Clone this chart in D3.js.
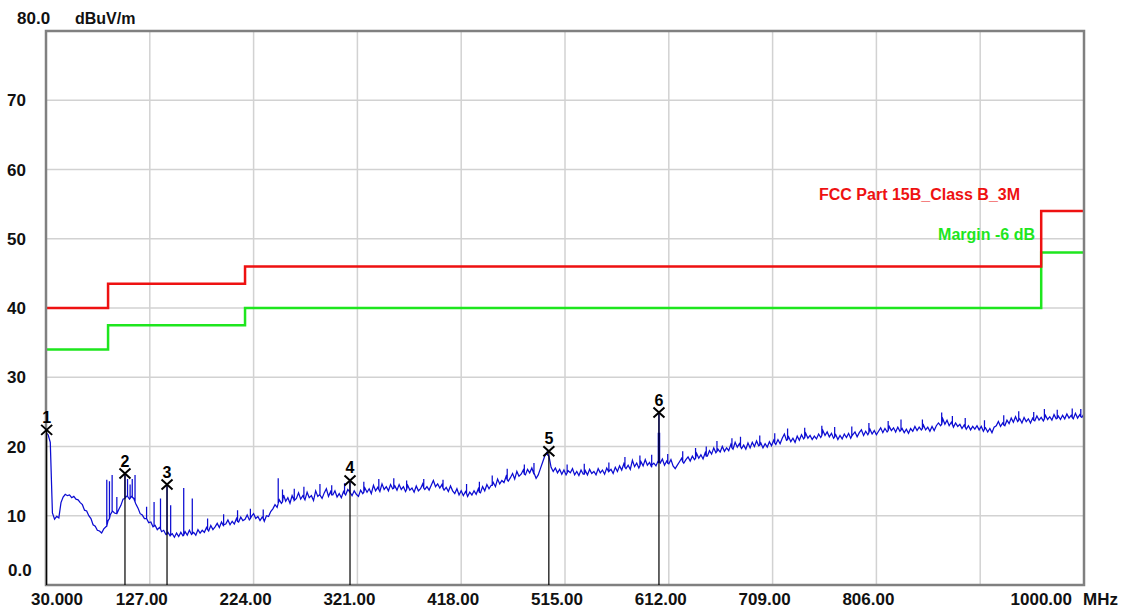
<!DOCTYPE html>
<html><head><meta charset="utf-8">
<script src="https://cdn.jsdelivr.net/npm/d3@7"></script>
<style>
html,body{margin:0;padding:0;background:#fff;}
svg{display:block;}
text{font-family:"Liberation Sans",Arial,sans-serif;font-weight:bold;}
</style></head>
<body>
<svg id="chart" width="1124" height="608"></svg>
<script>
// ---- data ----
const freqStart = 30;     // MHz, first trace sample
const freqStep = 2;       // MHz between trace samples
const traceLevels = [
 22.0,21.7,20.6,10.4, 9.5, 9.9, 9.7,11.9,12.7,13.1,12.9,13.0,12.6,12.8,12.4,
 12.3,11.9,11.6,10.8,10.7,10.0, 9.6, 8.7, 8.5, 7.9, 7.8, 7.5, 8.1, 8.4, 9.3,
 10.1,10.7,10.4,10.3,10.9,11.5,12.4,12.6,12.9,12.4,12.8,12.5,11.7,11.1,10.3,
 10.1, 9.6, 9.6, 9.0, 9.1, 8.4, 8.6, 8.0, 8.3, 7.7, 7.9, 7.3, 7.6, 7.1, 7.4,
  6.9, 7.5, 7.0, 7.6, 7.1, 7.7, 7.2, 7.9, 7.3, 7.6, 7.2, 8.0, 7.5, 7.9, 7.6,
  8.3, 7.8, 8.6, 8.0, 8.4, 8.9, 8.3, 9.1, 8.5, 8.8, 9.4, 8.7, 9.2, 8.8, 9.6,
  9.1, 9.8, 9.3, 9.5,10.1, 9.4, 9.9,10.3, 9.6, 9.9, 9.3, 9.8, 9.2,10.0, 9.9,
 10.6,11.0,11.6,11.2,12.3,11.8,13.0,12.1,12.6,11.8,12.9,12.2,12.5,13.3,12.4,
 12.9,12.3,13.4,12.6,12.9,12.2,13.6,12.8,13.1,12.5,13.3,13.9,12.8,13.5,13.0,
 13.6,12.7,13.2,12.6,13.5,13.0,13.8,13.4,12.9,13.6,13.1,12.8,13.7,13.2,14.0,
 13.4,13.9,13.2,14.4,13.6,14.1,13.5,14.6,13.8,14.2,13.6,14.5,13.9,14.3,13.7,
 14.5,13.8,14.2,13.5,14.4,13.7,14.0,13.4,14.3,13.6,13.9,14.6,13.8,14.2,13.7,
 14.4,15.1,14.2,14.6,14.0,14.5,13.7,14.1,13.5,14.3,13.6,13.2,13.9,13.0,13.6,
 12.9,13.5,12.8,13.4,13.0,13.6,13.1,13.9,13.3,14.2,13.6,14.5,13.9,14.4,14.8,
 14.2,15.3,14.6,15.1,14.8,15.7,15.0,15.5,16.1,15.3,16.4,15.7,16.0,16.6,15.9,
 16.7,16.2,16.9,16.0,15.4,15.9,16.8,17.7,18.6,19.1,18.6,17.0,16.4,16.9,16.2,
 16.7,16.0,16.6,15.9,16.5,16.2,16.8,15.9,16.4,15.8,16.6,16.0,16.5,15.9,16.7,
 16.1,16.4,15.9,16.8,16.2,16.6,16.0,16.9,16.3,16.7,16.1,17.0,16.4,17.2,16.6,
 17.5,16.8,17.3,16.7,18.0,17.1,17.6,16.9,17.8,17.2,18.1,17.3,17.7,17.0,17.6,
 17.2,17.9,17.6,18.2,17.3,17.9,17.5,18.1,17.2,16.8,17.3,17.8,18.3,17.6,18.1,
 18.5,17.9,18.6,18.1,19.0,18.3,18.8,18.2,19.1,18.6,19.4,18.9,19.8,19.1,19.6,
 19.2,20.0,19.3,19.8,19.4,20.3,19.6,20.6,19.9,20.4,19.7,20.2,19.6,20.5,19.8,
 20.6,20.0,20.8,20.1,20.5,19.8,20.4,19.9,20.7,20.1,20.9,20.3,21.0,20.4,21.2,
 21.8,20.9,21.4,20.7,21.2,20.6,21.5,20.9,21.7,21.1,21.9,21.2,21.6,21.0,21.5,
 21.1,21.8,21.3,22.3,21.6,22.1,21.4,21.9,21.2,21.7,21.0,21.6,21.1,21.8,21.3,
 21.9,21.2,21.7,22.1,21.4,22.0,22.4,21.6,22.2,21.7,22.5,21.8,22.3,21.7,22.2,
 22.7,22.0,22.6,22.1,22.9,22.3,22.7,22.1,22.8,22.2,22.6,22.0,22.5,21.9,22.6,
 22.2,22.9,22.3,22.8,22.4,23.1,22.4,22.8,22.2,22.9,22.3,23.0,23.4,23.0,24.0,
 23.2,23.8,23.0,23.5,22.8,23.4,22.9,23.2,22.6,23.1,22.5,23.0,22.4,22.9,22.5,
 23.0,22.4,22.9,22.2,22.7,22.1,22.6,22.0,22.8,23.0,23.6,22.9,23.4,23.0,23.8,
 23.3,24.1,23.5,24.3,23.6,24.0,23.4,24.2,23.6,24.0,23.4,24.1,23.7,24.4,23.8,
 24.2,23.7,24.5,23.9,24.3,23.8,24.6,24.0,24.4,23.9,24.5,24.0,24.7,24.1,24.5,
 24.0,24.8,24.1,24.6,24.2,24.7
];
// narrow spikes: [freq MHz, level at foot, peak level]
const spikes = [
 [86.8, 8.5, 15.2],[89.3, 9.6, 15.0],[91.8,10.6, 15.9],[96.2,10.3,12.7],
 [103.8,12.5,16.2],[106.2,12.8,15.3],[108.6,12.5,14.5],[110.6,12.7,15.3],[113.2,12.0,15.9],
 [124.0, 9.6,11.3],[131.0, 8.5,12.0],[137.0, 8.1,12.5],[143.1, 7.4,14.6],[146.5, 7.2,11.5],
 [158.7, 7.2,14.0],[166.7, 7.4,12.5],
 [181.0, 8.0, 9.6],[196.0, 8.7,10.2],[209.0, 9.2,10.8],[221.0, 9.6,11.0],[233.0, 9.6,10.9],
 [247.0,11.8,15.4],[251.0,12.0,13.8],[262.0,12.2,13.9],[271.0,12.6,14.2],[286.0,13.0,14.6],
 [297.0,13.0,14.4],[309.0,13.2,14.7],[314.0,13.4,15.2],[327.0,13.4,14.9],[341.0,13.8,15.3],
 [355.0,14.0,15.4],[367.0,13.8,15.1],[383.0,14.0,15.3],[401.0,14.0,15.2],[423.0,13.2,14.6],
 [435.0,13.4,14.9],[447.0,14.4,15.8],[461.0,15.2,16.8],[477.0,16.0,17.4],[486.0,16.2,17.6],
 [498.5,18.8,19.4],[517.0,16.2,17.4],[533.0,16.0,17.5],[556.0,16.4,17.7],[571.0,17.0,18.5],
 [585.0,17.2,18.7],[596.0,17.3,18.8],
 [602.2,17.7,22.0],[602.8,17.7,24.9],[603.4,17.7,22.0],
 [611.0,17.6,18.9],[625.0,17.8,19.3],[637.0,18.3,19.8],[647.0,18.6,20.0],[657.0,19.3,20.8],
 [671.0,19.8,21.2],[679.0,20.0,21.4],[697.0,20.2,21.6],[711.0,20.5,21.9],[723.0,21.0,22.6],
 [739.0,21.3,22.7],[755.0,21.6,23.0],[767.0,21.4,22.8],[783.0,21.5,22.9],[799.0,22.0,23.4],
 [817.0,22.3,23.7],[829.0,22.4,23.9],[849.0,22.6,23.9],[867.0,23.2,24.9],[877.0,23.2,24.4],
 [889.0,22.8,24.1],[907.0,22.5,23.8],[925.0,23.1,24.5],[939.0,23.8,25.1],[953.0,23.8,25.0],
 [963.0,24.0,25.4],[975.0,24.1,25.3],[989.0,24.2,25.5],[997.0,24.3,25.4]
];
// limit lines (step after)
const limitFreqs = [30, 88, 216, 960, 1000];
const limitLevels = [40, 43.5, 46, 54, 54];
const marginLevels = [34, 37.5, 40, 48, 48];
// markers
const markerIds = ["1","2","3","4","5","6"];
const markerFreqs = [30.6, 103.8, 143.1, 314.1, 499.9, 602.8];
const markerLevels = [22.4, 16.1, 14.5, 15.1, 19.3, 24.9];
// axes
const xGrid = [30,127,224,321,418,515,612,709,806,903,1000];
const xTickValues = [30,127,224,321,418,515,612,709,806,1000];
const xTickLabels = ["30.000","127.00","224.00","321.00","418.00","515.00","612.00","709.00","806.00","1000.00"];
const yGrid = [10,20,30,40,50,60,70];
const yTickValues = [10,20,30,40,50,60,70];
const yTickLabels = ["10","20","30","40","50","60","70"];

// ---- layout ----
const W = 1124, H = 608;
const M = {left:46, top:31, right:40, bottom:23};
const svg = d3.select("#chart");
const x = d3.scaleLinear().domain([30,1000]).range([M.left, W-M.right]);
const y = d3.scaleLinear().domain([0,80]).range([H-M.bottom, M.top]);

// grid
const g = svg.append("g");
g.selectAll("line.vg").data(xGrid).join("line")
 .attr("x1",d=>x(d)).attr("x2",d=>x(d)).attr("y1",y(0)).attr("y2",y(80))
 .attr("stroke","#d2d2d2").attr("stroke-width",1.5);
g.selectAll("line.hg").data(yGrid).join("line")
 .attr("x1",x(30)).attr("x2",x(1000)).attr("y1",d=>y(d)).attr("y2",d=>y(d))
 .attr("stroke","#d2d2d2").attr("stroke-width",1.5);

svg.append("clipPath").attr("id","clip").append("rect")
 .attr("x",x(30)).attr("y",y(80)).attr("width",x(1000)-x(30)).attr("height",y(0)-y(80));
const plot = svg.append("g").attr("clip-path","url(#clip)");

// limit lines
const stepLine = d3.line().x(d=>x(d[0])).y(d=>y(d[1])).curve(d3.curveStepAfter);
plot.append("path").datum(limitFreqs.map((f,i)=>[f,marginLevels[i]]))
 .attr("d",stepLine).attr("fill","none").attr("stroke","#1ee61e").attr("stroke-width",2.5);
plot.append("path").datum(limitFreqs.map((f,i)=>[f,limitLevels[i]]))
 .attr("d",stepLine).attr("fill","none").attr("stroke","#ee1111").attr("stroke-width",2.5);

// frame
svg.append("rect").attr("x",x(30)).attr("y",y(80)).attr("width",x(1000)-x(30)).attr("height",y(0)-y(80))
 .attr("fill","none").attr("stroke","#808080").attr("stroke-width",2.5);

// trace
let pts = traceLevels.map((v,i)=>[freqStart+freqStep*i, v]);
spikes.forEach(s=>{ pts.push([s[0],s[1]],[s[0],s[2]],[s[0],s[1]]); });
pts = pts.map((p,i)=>({p,i})).sort((a,b)=>a.p[0]-b.p[0]||a.i-b.i).map(o=>o.p);
plot.append("path").datum(pts)
 .attr("d",d3.line().x(d=>x(d[0])).y(d=>y(d[1])))
 .attr("fill","none").attr("stroke","#0c0cd2").attr("stroke-width",1.25);

// markers
const mk = svg.append("g");
markerFreqs.forEach((f,i)=>{
  const mx = x(f), my = y(markerLevels[i]);
  mk.append("line").attr("x1",mx).attr("x2",mx).attr("y1",my).attr("y2",y(0))
    .attr("stroke","#000").attr("stroke-width",1.2);
  mk.append("path").attr("d",`M${mx-5.5},${my-5}L${mx+5.5},${my+5}M${mx+5.5},${my-5}L${mx-5.5},${my+5}`)
    .attr("stroke","#000").attr("stroke-width",2).attr("fill","none");
  mk.append("text").attr("x",mx).attr("y",my-7).attr("text-anchor","middle")
    .attr("font-size",16).attr("fill","#000").text(markerIds[i]);
});

// y labels
svg.selectAll("text.yl").data(yTickValues).join("text").attr("class","yl")
 .attr("x",7).attr("y",d=>y(d)).attr("dy","0.36em").attr("font-size",17).attr("fill","#111")
 .text((d,i)=>yTickLabels[i]);
svg.append("text").attr("x",8).attr("y",y(0)-15).attr("dy","0.36em").attr("font-size",17).attr("fill","#111").text("0.0");
svg.append("text").attr("x",17).attr("y",y(80)-13).attr("dy","0.36em").attr("font-size",17).attr("fill","#111").text("80.0");
svg.append("text").attr("x",75).attr("y",y(80)-13).attr("dy","0.36em").attr("font-size",16).attr("fill","#111").text("dBuV/m");

// x labels
svg.selectAll("text.xl").data(xTickValues).join("text").attr("class","xl")
 .attr("x",(d,i)=> i===0 ? x(d)-15 : (i===xTickValues.length-1 ? x(d)-12 : x(d)-8))
 .attr("text-anchor",(d,i)=> i===0 ? "start" : (i===xTickValues.length-1 ? "end" : "middle"))
 .attr("y",y(0)+14).attr("dy","0.36em").attr("font-size",17).attr("fill","#111")
 .text((d,i)=>xTickLabels[i]);
svg.append("text").attr("x",x(1000)-1).attr("y",y(0)+14).attr("dy","0.36em").attr("font-size",17).attr("fill","#111").text("MHz");

// legends
svg.append("text").attr("x",1020).attr("y",200).attr("text-anchor","end").attr("font-size",16)
 .attr("fill","#ee1111").text("FCC Part 15B_Class B_3M");
svg.append("text").attr("x",1035).attr("y",240).attr("text-anchor","end").attr("font-size",16)
 .attr("fill","#1ee61e").text("Margin -6 dB");
</script>
</body></html>
